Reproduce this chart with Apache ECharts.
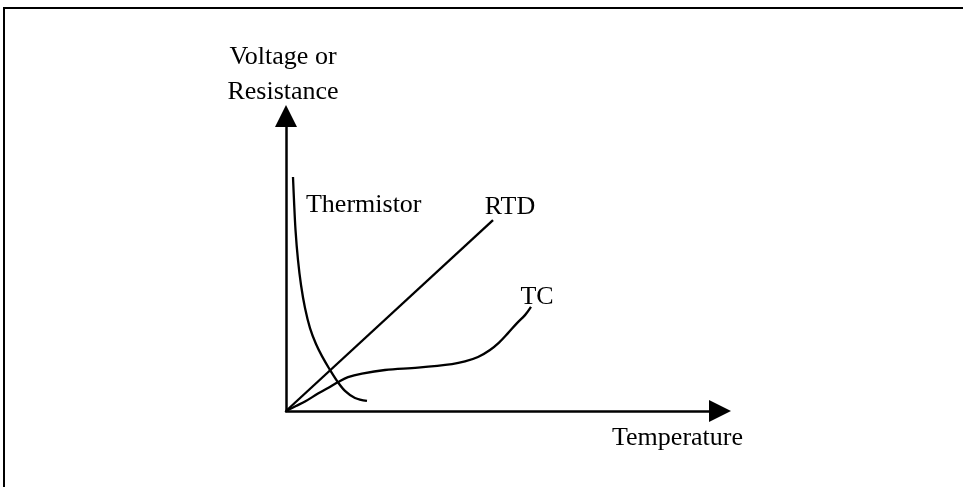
<!DOCTYPE html>
<html>
<head>
<meta charset="utf-8">
<title>Sensor response vs temperature</title>
<script src="https://cdn.jsdelivr.net/npm/echarts@6/dist/echarts.min.js"></script>
<style>
  html, body { margin: 0; padding: 0; background: #fff; }
  #chart { width: 963px; height: 487px; }
</style>
</head>
<body>
<div id="chart"></div>
<script>
// Relative scales: temperature (x) and output (y), both 0..100
var xRange = [0, 100];
var yRange = [0, 100];

// Axis titles
var xAxisTitle = 'Temperature';
var yAxisTitle = 'Voltage or\nResistance';

// Curve names
var seriesNames = ['Thermistor', 'RTD', 'TC'];

// Thermistor: steep fall of resistance with temperature
var thermistorX = [1.61, 1.84, 2.19, 2.76, 3.46, 4.38, 5.53, 6.91, 8.29, 10.14, 11.75, 13.59, 15.90, 18.66];
var thermistorY = [79.3, 71.5, 61.4, 51.2, 42.7, 34.9, 28.1, 22.7, 18.6, 13.9, 10.2, 6.8, 4.4, 3.4];

// RTD: linear rise
var rtdX = [0, 47.7];
var rtdY = [0, 64.7];

// Thermocouple: slow rise, then curving upward
var tcX = [0, 2.30, 4.38, 7.37, 9.68, 11.98, 14.29, 17.51, 22.81, 30.41, 38.25, 41.24, 44.24, 47.00, 49.08, 51.15, 53.23, 55.07, 56.45];
var tcY = [0, 1.7, 3.2, 5.9, 7.8, 9.8, 11.5, 12.7, 13.9, 14.7, 15.9, 16.8, 18.3, 20.7, 23.2, 26.4, 29.8, 32.5, 35.3];

var serifFont = '"Times New Roman", "Liberation Serif", "DejaVu Serif", serif';

function pairs(xs, ys) {
  return xs.map(function (x, i) { return [x, ys[i]]; });
}

// Put a text label on one point of a curve
function withLabel(points, index, text, offset, align) {
  return points.map(function (p, i) {
    if (i !== index) return p;
    return {
      value: p,
      label: {
        show: true,
        formatter: text,
        position: offset,
        align: align,
        verticalAlign: 'middle',
        color: '#000',
        fontFamily: serifFont,
        fontSize: 26
      }
    };
  });
}

var curveStyle = {
  type: 'line',
  smooth: 0.35,
  showSymbol: true,
  symbol: 'circle',
  symbolSize: 0,
  silent: true,
  clip: false,
  lineStyle: { color: '#000', width: 2.3 },
  itemStyle: { color: '#000' },
  emphasis: { disabled: true },
  animation: false
};

var axisCommon = {
  type: 'value',
  axisLine: {
    show: true,
    symbol: ['none', 'triangle'],
    symbolSize: [22, 22],
    lineStyle: { color: '#000', width: 2.5 }
  },
  axisTick: { show: false },
  axisLabel: { show: false },
  splitLine: { show: false }
};

var chart = echarts.init(document.getElementById('chart'), null, { renderer: 'canvas' });

chart.setOption({
  backgroundColor: '#fff',
  animation: false,
  grid: { left: 286, top: 116, right: 243, bottom: 76, outerBoundsMode: 'none' },
  xAxis: Object.assign({}, axisCommon, {
    min: xRange[0],
    max: xRange[1],
    name: xAxisTitle,
    nameLocation: 'end',
    nameGap: 23,
    nameTextStyle: {
      color: '#000',
      fontFamily: serifFont,
      fontSize: 26,
      align: 'right',
      verticalAlign: 'top',
      lineHeight: 55
    }
  }),
  yAxis: Object.assign({}, axisCommon, {
    min: yRange[0],
    max: yRange[1],
    name: yAxisTitle,
    nameLocation: 'end',
    nameGap: 6,
    nameTextStyle: {
      color: '#000',
      fontFamily: serifFont,
      fontSize: 26,
      lineHeight: 35,
      align: 'center',
      verticalAlign: 'bottom',
      padding: [0, 6, 0, 0]
    }
  }),
  graphic: [{
    type: 'rect',
    shape: { x: 4, y: 8, width: 1200, height: 1200 },
    style: { fill: 'none', stroke: '#000', lineWidth: 2 },
    silent: true,
    z: 100
  }],
  series: [
    Object.assign({}, curveStyle, {
      name: seriesNames[0],
      data: withLabel(pairs(thermistorX, thermistorY), 0, seriesNames[0], [13, 28.5], 'left')
    }),
    Object.assign({}, curveStyle, {
      name: seriesNames[1],
      smooth: false,
      data: withLabel(pairs(rtdX, rtdY), rtdX.length - 1, seriesNames[1], [17, -12.5], 'center')
    }),
    Object.assign({}, curveStyle, {
      name: seriesNames[2],
      data: withLabel(pairs(tcX, tcY), tcX.length - 1, seriesNames[2], [6, -9.5], 'center')
    })
  ]
});
</script>
</body>
</html>
